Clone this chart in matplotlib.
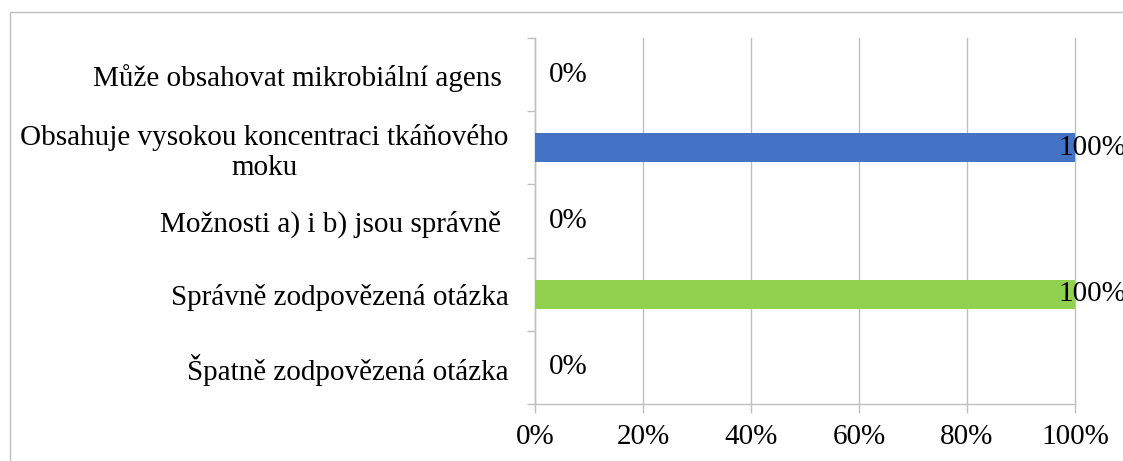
import numpy as np
import matplotlib.pyplot as plt
from matplotlib.patches import Rectangle
from matplotlib.ticker import FixedLocator, PercentFormatter

# data (top to bottom as in the picture)
categories = ['Může obsahovat mikrobiální agens ',
              'Obsahuje vysokou koncentraci tkáňového\nmoku',
              'Možnosti a) i b) jsou správně ',
              'Správně zodpovězená otázka',
              'Špatně zodpovězená otázka']
values = [0, 100, 0, 100, 0]
colors = ['#4472C4', '#4472C4', '#4472C4', '#92D050', '#4472C4']
xticks = [0, 20, 40, 60, 80, 100]

plt.rcParams['font.family'] = ['Liberation Serif', 'DejaVu Serif']
grey = '#BFBFBF'
fs = 21

fig = plt.figure(figsize=(11.23, 4.61), dpi=100)
ax = fig.add_axes([535 / 1123, 1 - 404 / 461, 540 / 1123, 366 / 461])

n = len(categories)
y = np.arange(n)[::-1]
ax.barh(y, values, height=0.4, color=colors, zorder=3)

ax.set_xlim(0, 100)
ax.set_ylim(-0.5, n - 0.5)
ax.set_xticks(xticks)
ax.xaxis.set_major_formatter(PercentFormatter(decimals=0))
ax.set_yticks(y)
ax.set_yticklabels(categories, multialignment='center')
ax.yaxis.set_minor_locator(FixedLocator(np.arange(n + 1) - 0.5))

ax.grid(axis='x', color=grey, linewidth=1, zorder=0)
for gl in ax.get_xgridlines():
    gl.set_clip_on(False)
for s in ['top', 'right']:
    ax.spines[s].set_visible(False)
for s in ['left', 'bottom']:
    ax.spines[s].set_color(grey)
    ax.spines[s].set_linewidth(1)

ax.tick_params(axis='y', which='major', length=0, pad=19, labelsize=fs)
ax.tick_params(axis='y', which='minor', length=6, color=grey, width=1)
ax.tick_params(axis='x', length=6.5, color=grey, width=1, pad=8, labelsize=fs)

# data labels
for yi, v in zip(y, values):
    if v == 0:
        ax.annotate(f'{v}%', (v, yi), xytext=(14, 0), textcoords='offset pixels',
                    ha='left', va='center', fontsize=fs, zorder=4)
    else:
        ax.annotate(f'{v}%', (v, yi), xytext=(-17, 0), textcoords='offset pixels',
                    ha='left', va='center', fontsize=fs, zorder=4,
                    annotation_clip=False)

# chart frame
fig.patches.append(Rectangle((10 / 1123, -0.2), 1.2, 1.2 - 12 / 461,
                             transform=fig.transFigure, fill=False,
                             edgecolor=grey, linewidth=1))

fig.savefig('out.png', dpi=100)
